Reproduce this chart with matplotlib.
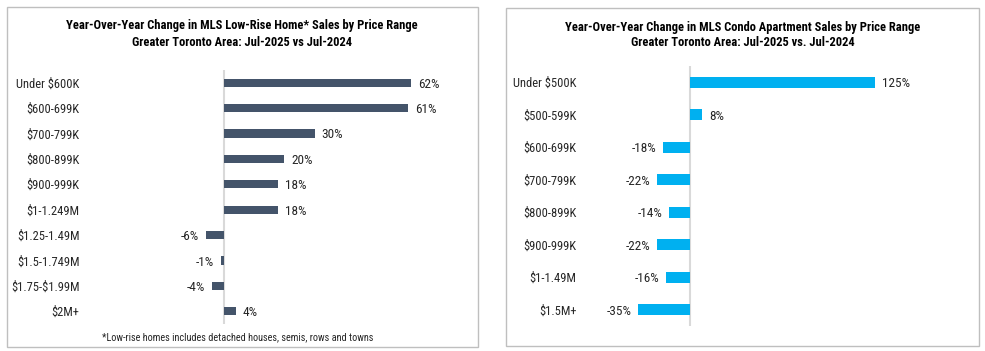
import matplotlib
matplotlib.use("Agg")
import matplotlib.pyplot as plt
from matplotlib.patches import Rectangle

plt.rcParams['font.family'] = ['Roboto Condensed', 'Liberation Sans', 'DejaVu Sans']
plt.rcParams['text.parse_math'] = False

# low-rise homes
lr_labels = ['Under $600K', '$600-699K', '$700-799K', '$800-899K', '$900-999K',
             '$1-1.249M', '$1.25-1.49M', '$1.5-1.749M', '$1.75-$1.99M', '$2M+']
lr_values = [62, 61, 30, 20, 18, 18, -6, -1, -4, 4]

# condo apartments
co_labels = ['Under $500K', '$500-599K', '$600-699K', '$700-799K', '$800-899K',
             '$900-999K', '$1-1.49M', '$1.5M+']
co_values = [125, 8, -18, -22, -14, -22, -16, -35]

W, H = 985, 351
fig = plt.figure(figsize=(W / 100, H / 100), dpi=100)


def px_axes(x0, y0, x1, y1):
    return fig.add_axes([x0 / W, 1 - y1 / H, (x1 - x0) / W, (y1 - y0) / H])


def panel_box(x0, y0, x1, y1):
    fig.patches.append(Rectangle((x0 / W, 1 - y1 / H), (x1 - x0) / W, (y1 - y0) / H,
                                 transform=fig.transFigure, fill=False,
                                 edgecolor='#BFBFBF', linewidth=1.0))


def bar_panel(ax, labels, values, color, xlim, height):
    y = list(range(len(labels)))
    ax.barh(y, values, height=height, color=color)
    ax.set_ylim(len(labels) - 0.5, -0.5)
    ax.set_xlim(*xlim)
    ax.axvline(0, color='#D9D9D9', linewidth=1.5, zorder=0)
    ax.set_yticks(y)
    ax.set_yticklabels(labels, fontsize=9, color='#262626')
    ax.set_xticks([])
    ax.tick_params(axis='y', length=0, pad=4)
    for s in ax.spines.values():
        s.set_visible(False)
    for yi, v in zip(y, values):
        off, ha = (5, 'left') if v >= 0 else (-5, 'right')
        ax.annotate(f'{v}%', (v, yi), xytext=(off, 0), textcoords='offset points',
                    ha=ha, va='center_baseline', fontsize=9.5, color='#262626')


# left panel
panel_box(7, 7, 478, 347)
ax1 = px_axes(85, 70, 470, 324)
bar_panel(ax1, lr_labels, lr_values, '#44546A', (-(224 - 85) / 3.02, (470 - 224) / 3.02), 0.33)
fig.text(242 / W, 1 - 26 / H, 'Year-Over-Year Change in MLS Low-Rise Home* Sales by Price Range',
         ha='center', va='center', fontsize=9, fontweight='bold')
fig.text(242 / W, 1 - 42 / H, 'Greater Toronto Area: Jul-2025 vs Jul-2024',
         ha='center', va='center', fontsize=9, fontweight='bold')
fig.text(238 / W, 1 - 337 / H, '*Low-rise homes includes detached houses, semis, rows and towns',
         ha='center', va='center', fontsize=7.4, color='#262626')

# right panel
panel_box(506, 8, 979, 346)
ax2 = px_axes(582, 66, 970, 326)
bar_panel(ax2, co_labels, co_values, '#00B0F0', (-(690 - 582) / 1.48, (970 - 690) / 1.48), 0.35)
fig.text(743 / W, 1 - 27 / H, 'Year-Over-Year Change in MLS Condo Apartment Sales by Price Range',
         ha='center', va='center', fontsize=9, fontweight='bold')
fig.text(743 / W, 1 - 42 / H, 'Greater Toronto Area: Jul-2025 vs. Jul-2024',
         ha='center', va='center', fontsize=9, fontweight='bold')

fig.savefig('out.png', dpi=100, facecolor='white')
